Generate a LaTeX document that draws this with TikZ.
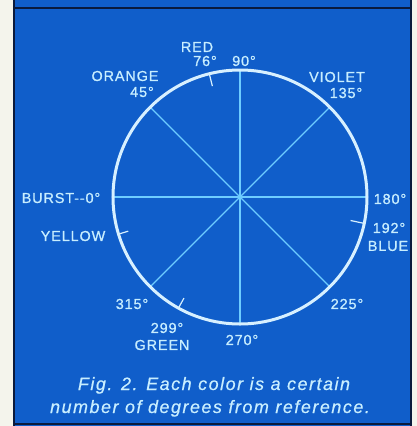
\documentclass[tikz,border=0pt]{standalone}
\usepackage{fontspec}
\setmainfont{Liberation Sans}
\usetikzlibrary{calc}
\definecolor{panelblue}{RGB}{16,94,202}
\definecolor{bordernavy}{RGB}{10,26,60}
\definecolor{inkcyan}{RGB}{200,238,255}
\definecolor{rimcolor}{RGB}{215,240,255}
\definecolor{spokecolor}{RGB}{110,205,255}
\definecolor{paper}{RGB}{244,244,236}
\tikzset{
  lbl/.style={text=inkcyan, inner sep=0pt, font=\fontsize{14.5}{16}\selectfont\addfontfeature{LetterSpace=6,FakeBold=0.8}},
  captxt/.style={text=inkcyan, inner sep=0pt, font=\fontsize{18}{20}\selectfont\itshape\addfontfeature{LetterSpace=8.5,FakeBold=0.5}},
  spoke/.style={draw=spokecolor, line width=1.4bp},
  tickmark/.style={draw=rimcolor, line width=1.2bp},
}
\begin{document}
\begin{tikzpicture}[x=1bp,y=-1bp]
\useasboundingbox (0,0) rectangle (417,426);
% paper and panel
\fill[paper] (0,0) rectangle (417,426);
\fill[panelblue] (14,0) rectangle (411,426);
\draw[bordernavy, line width=2bp] (14,0) -- (14,426);
\draw[bordernavy, line width=2bp] (410.5,0) -- (410.5,426);
\draw[bordernavy, line width=2bp] (14,8) -- (410.5,8);
\draw[bordernavy, line width=1.5bp] (14,424) -- (410.5,424);
% wheel
\node[circle, minimum size=254bp, inner sep=0pt, outer sep=0pt] (wheel) at (240,197) {};
\draw[spoke] (wheel.180) -- (wheel.0);
\draw[spoke] (wheel.90) -- (wheel.-90);
\draw[spoke] (wheel.135) -- (wheel.-45);
\draw[spoke] (wheel.45) -- (wheel.-135);
\node[circle, fill=spokecolor, minimum size=5bp, inner sep=0pt] (hub) at (wheel.center) {};
\draw[draw=rimcolor, line width=3bp] (wheel.center) circle[radius=127bp];
% ticks
\coordinate (t76) at ($(wheel.center)!0.90!(wheel.104)$);
\coordinate (t192) at ($(wheel.center)!0.89!(wheel.-12)$);
\coordinate (tyel) at ($(wheel.center)!0.92!(wheel.197)$);
\coordinate (t299) at ($(wheel.center)!0.91!(wheel.-119)$);
\draw[tickmark] (wheel.104) -- (t76);
\draw[tickmark] (wheel.-12) -- (t192);
\draw[tickmark] (wheel.197) -- (tyel);
\draw[tickmark] (wheel.-119) -- (t299);
% labels
\node[lbl] (red) at (197,47) {RED};
\node[lbl] (d76) at (205,61) {76°};
\node[lbl] (d90) at (244,61) {90°};
\node[lbl] (orange) at (125,76) {ORANGE};
\node[lbl] (d45) at (142,92) {45°};
\node[lbl] (violet) at (337,77) {VIOLET};
\node[lbl] (d135) at (346,93) {135°};
\node[lbl] (burst) at (61,198) {BURST-{}-0°};
\node[lbl] (d180) at (390,199) {180°};
\node[lbl] (d192) at (389,228) {192°};
\node[lbl] (blue) at (388,246) {BLUE};
\node[lbl] (yellow) at (73,236) {YELLOW};
\node[lbl] (d315) at (132,304) {315°};
\node[lbl] (d225) at (347,304) {225°};
\node[lbl] (d299) at (167,328) {299°};
\node[lbl] (green) at (162,345) {GREEN};
\node[lbl] (d270) at (242,340) {270°};
% caption
\node[captxt, anchor=base] (cap1) at (214,390) {Fig. 2. Each color is a certain};
\node[captxt, anchor=base] (cap2) at (210,413) {number of degrees from reference.};
\end{tikzpicture}
\end{document}
